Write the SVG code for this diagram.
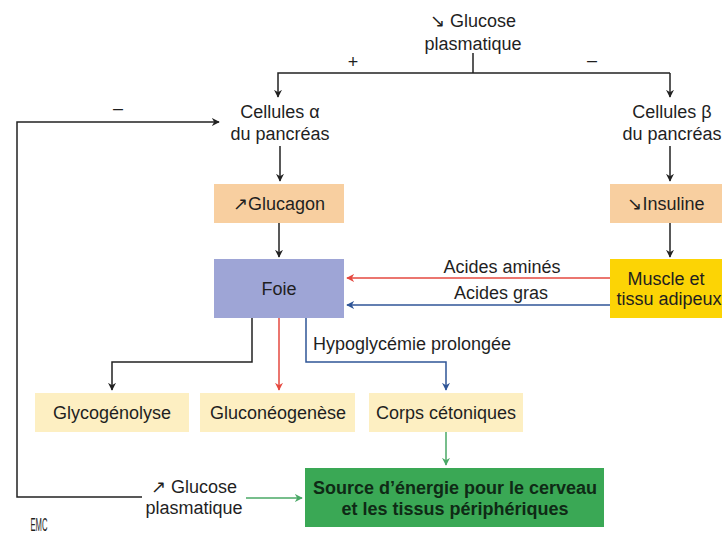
<svg xmlns="http://www.w3.org/2000/svg" width="722" height="537" viewBox="0 0 722 537">
<defs>
<style>
text{font-family:"Liberation Sans",Arial,sans-serif;font-size:18px;fill:#1f1f1f;text-anchor:middle}
.ln{fill:none;stroke-width:1.5}
.k{stroke:#222}
.r{stroke:#e5483f}
.b{stroke:#2f5597}
.g{stroke:#4aa866}
.bold{font-weight:bold;fill:#0f2a15}
</style>
<marker id="ak" viewBox="0 0 10 10" refX="9" refY="5" markerWidth="8" markerHeight="8" markerUnits="userSpaceOnUse" orient="auto"><path d="M0,0 L10,5 L0,10 L3,5 Z" fill="#222"/></marker>
<marker id="ar" viewBox="0 0 10 10" refX="9" refY="5" markerWidth="8" markerHeight="8" markerUnits="userSpaceOnUse" orient="auto"><path d="M0,0 L10,5 L0,10 L3,5 Z" fill="#e5483f"/></marker>
<marker id="ab" viewBox="0 0 10 10" refX="9" refY="5" markerWidth="8" markerHeight="8" markerUnits="userSpaceOnUse" orient="auto"><path d="M0,0 L10,5 L0,10 L3,5 Z" fill="#2f5597"/></marker>
<marker id="ag" viewBox="0 0 10 10" refX="9" refY="5" markerWidth="8" markerHeight="8" markerUnits="userSpaceOnUse" orient="auto"><path d="M0,0 L10,5 L0,10 L3,5 Z" fill="#4aa866"/></marker>
</defs>
<rect width="722" height="537" fill="#ffffff"/>

<g id="connectors">
<path class="ln k" d="M473,53 V73"/>
<path class="ln k" d="M670,73 H278 V97" marker-end="url(#ak)"/>
<path class="ln k" d="M670,73 V97" marker-end="url(#ak)"/>
<path class="ln k" d="M280,146 V181" marker-end="url(#ak)"/>
<path class="ln k" d="M670,146 V181" marker-end="url(#ak)"/>
<path class="ln k" d="M279,223 V257" marker-end="url(#ak)"/>
<path class="ln k" d="M670,223 V257" marker-end="url(#ak)"/>
<path class="ln r" d="M610,278 H347" marker-end="url(#ar)"/>
<path class="ln b" d="M610,305 H347" marker-end="url(#ab)"/>
<path class="ln k" d="M252,318 V362 H112 V390" marker-end="url(#ak)"/>
<path class="ln r" d="M279,318 V390" marker-end="url(#ar)"/>
<path class="ln b" d="M306,318 V362 H446 V390" marker-end="url(#ab)"/>
<path class="ln g" d="M446,432 V465" marker-end="url(#ag)"/>
<path class="ln g" d="M246,498 H302" marker-end="url(#ag)"/>
<path class="ln k" d="M142,497 H17 V122 H219" marker-end="url(#ak)"/>
<text x="353" y="68" font-size="14">+</text>
<text x="592" y="66" font-size="14">–</text>
<text x="118" y="114" font-size="14">–</text>
<text x="502" y="273">Acides aminés</text>
<text x="501" y="299">Acides gras</text>
<text x="313" y="350" style="text-anchor:start">Hypoglycémie prolongée</text>
</g>

<g id="glucose-top">
<text x="473" y="27">↘ Glucose</text>
<text x="473" y="50">plasmatique</text>
</g>

<g id="cellules-alpha">
<text x="280" y="118">Cellules α</text>
<text x="280" y="140">du pancréas</text>
</g>

<g id="cellules-beta">
<text x="672" y="118">Cellules β</text>
<text x="672" y="140">du pancréas</text>
</g>

<g id="glucagon">
<rect x="214" y="184" width="130" height="39" fill="#f8cfa0"/>
<text x="279" y="210">↗Glucagon</text>
</g>

<g id="insuline">
<rect x="610" y="184" width="112" height="39" fill="#f8cfa0"/>
<text x="666" y="210">↘Insuline</text>
</g>

<g id="foie">
<rect x="214" y="259" width="130" height="59" fill="#9ea5d6"/>
<text x="279" y="295">Foie</text>
</g>

<g id="muscle">
<rect x="610" y="259" width="112" height="59" fill="#fcd405"/>
<text x="666" y="285">Muscle et</text>
<text x="669" y="305">tissu adipeux</text>
</g>

<g id="glycogenolyse">
<rect x="35" y="393" width="154" height="39" fill="#fdefc2"/>
<text x="112" y="419">Glycogénolyse</text>
</g>

<g id="gluconeogenese">
<rect x="200" y="393" width="155" height="39" fill="#fdefc2"/>
<text x="278" y="419">Gluconéogenèse</text>
</g>

<g id="corps">
<rect x="369" y="393" width="154" height="39" fill="#fdefc2"/>
<text x="446" y="419">Corps cétoniques</text>
</g>

<g id="glucose-bottom">
<text x="194" y="493">↗ Glucose</text>
<text x="194" y="514">plasmatique</text>
</g>

<g id="source">
<rect x="305" y="468" width="299" height="59" fill="#3aa855"/>
<text x="455" y="494" class="bold">Source d’énergie pour le cerveau</text>
<text x="455" y="515" class="bold">et les tissus périphériques</text>
</g>

<text x="39" y="531" font-size="14" style="font-family:'Liberation Sans Narrow','Liberation Sans',sans-serif" textLength="17" lengthAdjust="spacingAndGlyphs">EMC</text>
</svg>
